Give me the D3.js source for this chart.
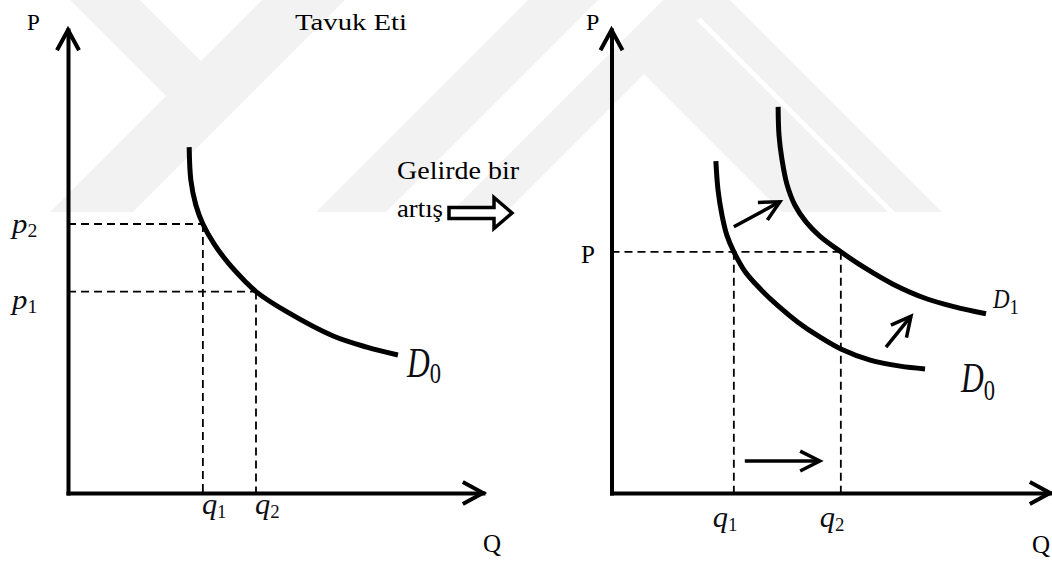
<!DOCTYPE html>
<html><head><meta charset="utf-8">
<script src="https://cdn.jsdelivr.net/npm/d3@7"></script>
<style>body{margin:0;background:#fff}svg{display:block}</style>
</head><body>
<svg id="chart" width="1052" height="563"></svg>
<script>
// ---------------- data (abstract units 0..100) ----------------
const leftD0Q  = [29.2, 29.6, 30.8, 32.5, 35.2, 38.6, 42.7, 45.3, 52.8, 63.9, 72.0, 79.5];
const leftD0P  = [74.7, 67.6, 62.2, 58.1, 53.8, 49.7, 45.7, 43.5, 39.1, 33.9, 31.5, 29.8];
const leftPriceLevels = [58.1, 43.5];          // p2, p1
const leftPriceSubs   = ["2", "1"];
const leftQtyLevels   = [32.5, 45.3];          // q1 (pairs with p2), q2 (pairs with p1)
const leftQtySubs     = ["1", "2"];

const rightD0Q = [23.8, 24.3, 25.2, 26.3, 27.9, 30.4, 33.9, 38.0, 42.5, 47.5, 52.3, 59.0, 65.8, 71.5];
const rightD0P = [71.7, 65.4, 60.0, 55.7, 52.1, 47.9, 44.1, 40.4, 36.9, 33.7, 31.1, 28.7, 27.4, 26.8];
const rightD1Q = [38.0, 38.2, 38.9, 40.0, 41.8, 44.4, 47.5, 52.3, 57.8, 64.2, 72.0, 78.3, 85.4];
const rightD1P = [83.4, 77.3, 71.9, 66.7, 62.2, 58.5, 55.5, 52.1, 48.6, 45.1, 41.9, 40.2, 38.7];
const rightPriceLevel = 52.1;                  // P
const rightQtyLevels  = [27.9, 52.3];          // q1, q2
const rightQtySubs    = ["1", "2"];

const shiftFromQ = [27.9, 62.6, 30.4];
const shiftFromP = [57.5, 31.5, 6.9];
const shiftToQ   = [38.4, 68.3, 47.5];
const shiftToP   = [62.9, 38.2, 6.9];

const titleText = "Tavuk Eti";
const middleText = ["Gelirde bir", "artış"];
const axisNames = ["P", "Q"];

// ---------------- setup ----------------
const svg = d3.select("#chart");
const xL = d3.scaleLinear().domain([0, 100]).range([68, 483]);
const xR = d3.scaleLinear().domain([0, 100]).range([611.5, 1050]);
const yS = d3.scaleLinear().domain([0, 100]).range([493, 30]);
const SERIF = "Liberation Serif, Times New Roman, serif";

// ---------------- faint background watermark ----------------
const wm = svg.append("g").attr("fill", "#f2f2f2");
const wmShapes = [
  [[70,0],[140,0],[201,61],[166,96]],
  [[262,0],[345,0],[133,212],[50,212]],
  [[528,0],[598,0],[386,212],[316,212]],
  [[663,0],[718,0],[506,212],[451,212]],
  [[683,0],[730,0],[942,212],[895,212]],
  [[697,21],[888,212],[782,212],[644,74]]
];
wmShapes.forEach(s => wm.append("path").attr("d", d3.line()(s) + "Z"));

// ---------------- helpers ----------------
function arrowHead(g, x1, y1, x2, y2, len, ang, w) {
  const a = Math.atan2(y2 - y1, x2 - x1);
  const p1 = [x2 - len * Math.cos(a - ang), y2 - len * Math.sin(a - ang)];
  const p2 = [x2 - len * Math.cos(a + ang), y2 - len * Math.sin(a + ang)];
  g.append("path").attr("d", d3.line()([p1, [x2, y2], p2]))
    .attr("fill", "none").attr("stroke", "#000").attr("stroke-width", w)
    .attr("stroke-linejoin", "miter").attr("stroke-linecap", "butt");
}

function drawAxes(x, y) {
  const g = svg.append("g");
  g.append("g").attr("transform", `translate(0,${y(0)})`)
    .call(d3.axisBottom(x).tickValues([]).tickSizeOuter(0));
  g.append("g").attr("transform", `translate(${x(0)},0)`)
    .call(d3.axisLeft(y).tickValues([]).tickSizeOuter(0));
  g.selectAll(".domain").attr("stroke", "#000").attr("stroke-width", 4)
    .attr("stroke-linecap", "square");
  arrowHead(g, x(0), y(0), x(100), y(0), 23, 0.5, 4);
  arrowHead(g, x(0), y(0), x(0), y(100), 23, 0.5, 4);
}

function drawCurve(x, y, qs, ps) {
  const pts = qs.map((q, i) => [q, ps[i]]);
  svg.append("path").datum(pts)
    .attr("d", d3.line().x(d => x(d[0])).y(d => y(d[1])).curve(d3.curveCatmullRom.alpha(0.5)))
    .attr("fill", "none").attr("stroke", "#000").attr("stroke-width", 5);
}

function dashed(x1, y1, x2, y2) {
  svg.append("line").attr("x1", x1).attr("y1", y1).attr("x2", x2).attr("y2", y2)
    .attr("stroke", "#000").attr("stroke-width", 1.8).attr("stroke-dasharray", "8,5");
}

function plainText(x, y, txt, size, extra) {
  const t = svg.append("text").attr("x", x).attr("y", y).attr("font-family", SERIF)
    .attr("font-size", size).attr("fill", "#000").text(txt);
  if (extra) extra(t);
  return t;
}

function mathLabel(x, y, main, sub, size, subSize, dy, sx) {
  const g = svg.append("g").attr("transform", `translate(${x},${y}) scale(${sx},1)`);
  const t = g.append("text").attr("font-family", SERIF).attr("fill", "#0d0d14");
  t.append("tspan").attr("font-style", "italic").attr("font-size", size).text(main);
  t.append("tspan").attr("font-size", subSize).attr("dy", dy).text(sub);
}

// ---------------- left panel ----------------
drawAxes(xL, yS);
leftPriceLevels.forEach((p, i) => {
  dashed(xL(0), yS(p), xL(leftQtyLevels[i]), yS(p));
  dashed(xL(leftQtyLevels[i]), yS(p), xL(leftQtyLevels[i]), yS(0));
});
drawCurve(xL, yS, leftD0Q, leftD0P);

plainText(27, 30, axisNames[0], 23);
plainText(483, 552, axisNames[1], 25);
plainText(295, 30, titleText, 23, t => t.attr("textLength", 112).attr("lengthAdjust", "spacingAndGlyphs"));

const pOff = [9, 17];
leftPriceLevels.forEach((p, i) => mathLabel(12, yS(p) + pOff[i], "p", leftPriceSubs[i], 28, 18, 4, 1.1));
leftQtyLevels.forEach((q, i) => mathLabel(xL(q) - 1, 514, "q", leftQtySubs[i], 29, 18, 4, 1.05));
mathLabel(407, 377, "D", "0", 42, 30, 6, 0.75);

// ---------------- middle annotation ----------------
plainText(397, 179, middleText[0], 25, t => t.attr("textLength", 122).attr("lengthAdjust", "spacingAndGlyphs"));
plainText(397, 217, middleText[1], 25, t => t.attr("textLength", 46).attr("lengthAdjust", "spacingAndGlyphs"));
(function blockArrow() {
  const x0 = 449, x1 = 494, tip = 512, cy = 213, bh = 5.5, hh = 15.5;
  const pts = [[x0, cy - bh], [x1, cy - bh], [x1, cy - hh], [tip, cy], [x1, cy + hh], [x1, cy + bh], [x0, cy + bh]];
  svg.append("path").attr("d", d3.line()(pts) + "Z")
    .attr("fill", "#fff").attr("stroke", "#000").attr("stroke-width", 3.5).attr("stroke-linejoin", "miter");
})();

// ---------------- right panel ----------------
drawAxes(xR, yS);
dashed(xR(0), yS(rightPriceLevel), xR(rightQtyLevels[1]), yS(rightPriceLevel));
rightQtyLevels.forEach(q => dashed(xR(q), yS(rightPriceLevel), xR(q), yS(0)));
drawCurve(xR, yS, rightD0Q, rightD0P);
drawCurve(xR, yS, rightD1Q, rightD1P);

shiftFromQ.forEach((q, i) => {
  const x1 = xR(q), y1 = yS(shiftFromP[i]), x2 = xR(shiftToQ[i]), y2 = yS(shiftToP[i]);
  svg.append("line").attr("x1", x1).attr("y1", y1).attr("x2", x2).attr("y2", y2)
    .attr("stroke", "#000").attr("stroke-width", 3.5);
  arrowHead(svg, x1, y1, x2, y2, 22, 0.47, 3.5);
});

plainText(586, 30, axisNames[0], 24);
plainText(581, 263, axisNames[0], 25);
plainText(1032, 553, axisNames[1], 25);
rightQtyLevels.forEach((q, i) => mathLabel(xR(q) - 21, 527, "q", rightQtySubs[i], 29, 18, 4, 1.05));
mathLabel(961, 392, "D", "0", 42, 30, 8, 0.75);
mathLabel(993, 308, "D", "1", 27, 22, 6, 0.85);
</script>
</body></html>
